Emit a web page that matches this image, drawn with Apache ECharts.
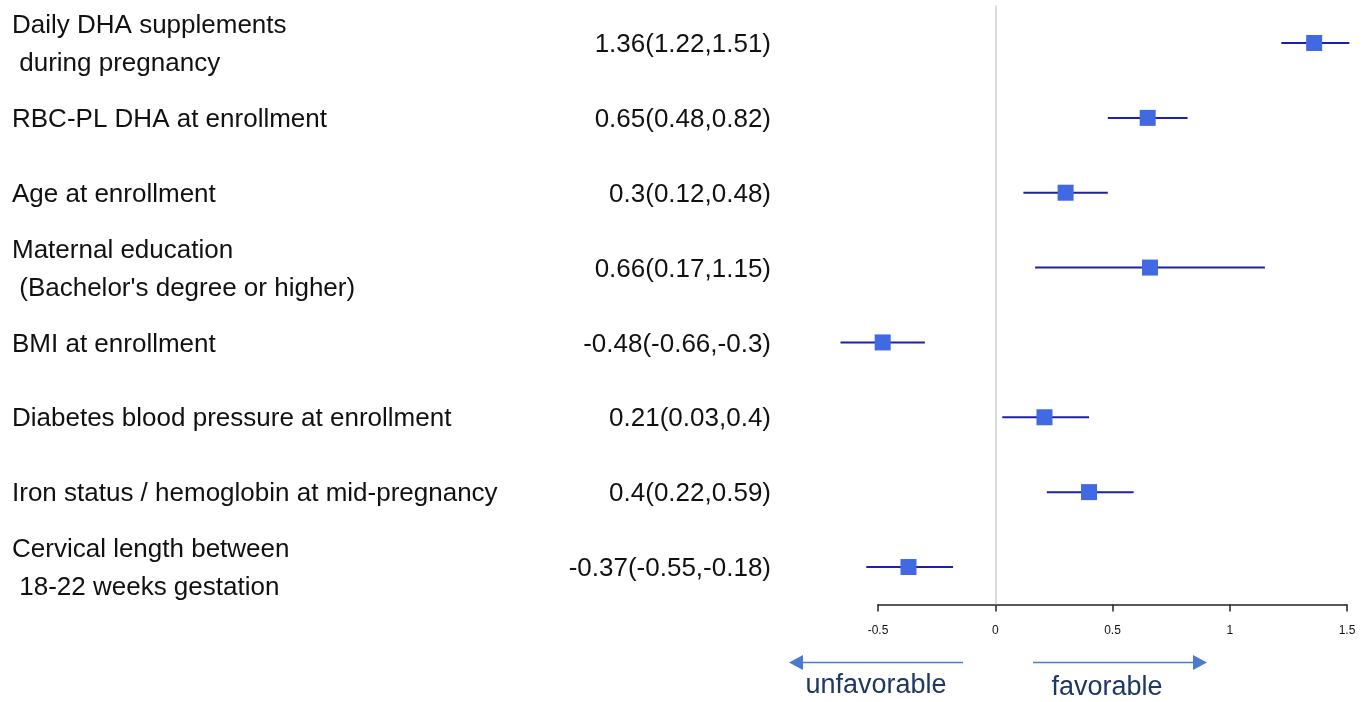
<!DOCTYPE html>
<html>
<head>
<meta charset="utf-8">
<title>Forest plot</title>
<script src="https://cdn.jsdelivr.net/npm/echarts@6/dist/echarts.min.js"></script>
<style>
  html, body { margin: 0; padding: 0; background: #fff; }
  #chart { width: 1371px; height: 702px; }
</style>
</head>
<body>
<div id="chart"></div>
<script>
// Predictors, point estimates and 95% confidence limits
const labels = [
  'Daily DHA supplements\n during pregnancy',
  'RBC-PL DHA at enrollment',
  'Age at enrollment',
  'Maternal education\n (Bachelor\'s degree or higher)',
  'BMI at enrollment',
  'Diabetes blood pressure at enrollment',
  'Iron status / hemoglobin at mid-pregnancy',
  'Cervical length between\n 18-22 weeks gestation'
];
const estimates = [1.36, 0.65, 0.3, 0.66, -0.48, 0.21, 0.4, -0.37];
const lower = [1.22, 0.48, 0.12, 0.17, -0.66, 0.03, 0.22, -0.55];
const upper = [1.51, 0.82, 0.48, 1.15, -0.3, 0.4, 0.59, -0.18];
const tickValues = [-0.5, 0, 0.5, 1, 1.5];

const valueText = estimates.map((e, i) => `${e}(${lower[i]},${upper[i]})`);

const chart = echarts.init(document.getElementById('chart'));

const gridLeft = 878;
const textFont = "'Liberation Sans', Arial, sans-serif";

// row text sits slightly below the row centre line
const rowText = { fontSize: 26, lineHeight: 38, color: '#111', fontFamily: textFont, padding: [4, 0, 0, 0] };

chart.setOption({
  animation: false,
  grid: { left: gridLeft, right: 24, top: 5.6, bottom: 97.6 },
  xAxis: {
    type: 'value',
    min: tickValues[0],
    max: tickValues[tickValues.length - 1],
    interval: 0.5,
    axisLine: { show: true, onZero: false, lineStyle: { color: '#222', width: 1.5 } },
    axisTick: { show: true, length: 7, lineStyle: { color: '#222', width: 1.5 } },
    axisLabel: { fontSize: 12, color: '#111', margin: 20, fontFamily: textFont },
    splitLine: { show: false }
  },
  yAxis: [
    {
      type: 'category',
      data: labels,
      inverse: true,
      axisLine: { show: false },
      axisTick: { show: false },
      axisLabel: {
        interval: 0,
        align: 'left',
        margin: gridLeft - 12,
        fontSize: 26,
        lineHeight: 38,
        color: '#111',
        fontFamily: textFont,
        formatter: v => v.split('\n').map(s => `{t|${s}}`).join('\n'),
        rich: { t: rowText }
      }
    },
    {
      type: 'category',
      data: valueText,
      inverse: true,
      position: 'left',
      axisLine: { show: false },
      axisTick: { show: false },
      axisLabel: {
        interval: 0,
        align: 'right',
        margin: gridLeft - 771,
        fontSize: 26,
        color: '#111',
        fontFamily: textFont,
        formatter: v => `{t|${v}}`,
        rich: { t: rowText }
      }
    }
  ],
  series: [
    {
      // confidence interval whiskers
      type: 'custom',
      yAxisIndex: 0,
      data: labels.map((_, i) => [lower[i], upper[i], i]),
      renderItem: function (params, api) {
        const a = api.coord([api.value(0), api.value(2)]);
        const b = api.coord([api.value(1), api.value(2)]);
        return {
          type: 'line',
          shape: { x1: a[0], y1: a[1], x2: b[0], y2: b[1] },
          style: { stroke: '#1f1fae', lineWidth: 2 }
        };
      },
      markLine: {
        silent: true,
        symbol: 'none',
        label: { show: false },
        lineStyle: { color: '#cfcfcf', width: 1.5, type: 'solid' },
        data: [{ xAxis: 0 }]
      },
      z: 2
    },
    {
      // point estimates
      type: 'scatter',
      yAxisIndex: 0,
      symbol: 'rect',
      symbolSize: 16,
      itemStyle: { color: '#4169e1', opacity: 1 },
      data: estimates.map((e, i) => [e, i]),
      z: 3
    }
  ],
  graphic: [
    // direction arrows below the axis
    { type: 'line', shape: { x1: 800, y1: 662.5, x2: 963, y2: 662.5 }, style: { stroke: '#4a7bd0', lineWidth: 1.5 } },
    { type: 'polygon', shape: { points: [[789, 662.5], [803, 655], [803, 670]] }, style: { fill: '#4a7bd0' } },
    { type: 'line', shape: { x1: 1033, y1: 662.5, x2: 1196, y2: 662.5 }, style: { stroke: '#4a7bd0', lineWidth: 1.5 } },
    { type: 'polygon', shape: { points: [[1207, 662.5], [1193, 655], [1193, 670]] }, style: { fill: '#4a7bd0' } },
    {
      type: 'text', x: 876, y: 686,
      style: { text: 'unfavorable', fontSize: 27, fill: '#1f3763', align: 'center', verticalAlign: 'middle', fontFamily: textFont }
    },
    {
      type: 'text', x: 1107, y: 688,
      style: { text: 'favorable', fontSize: 27, fill: '#1f3763', align: 'center', verticalAlign: 'middle', fontFamily: textFont }
    }
  ]
});
</script>
</body>
</html>
